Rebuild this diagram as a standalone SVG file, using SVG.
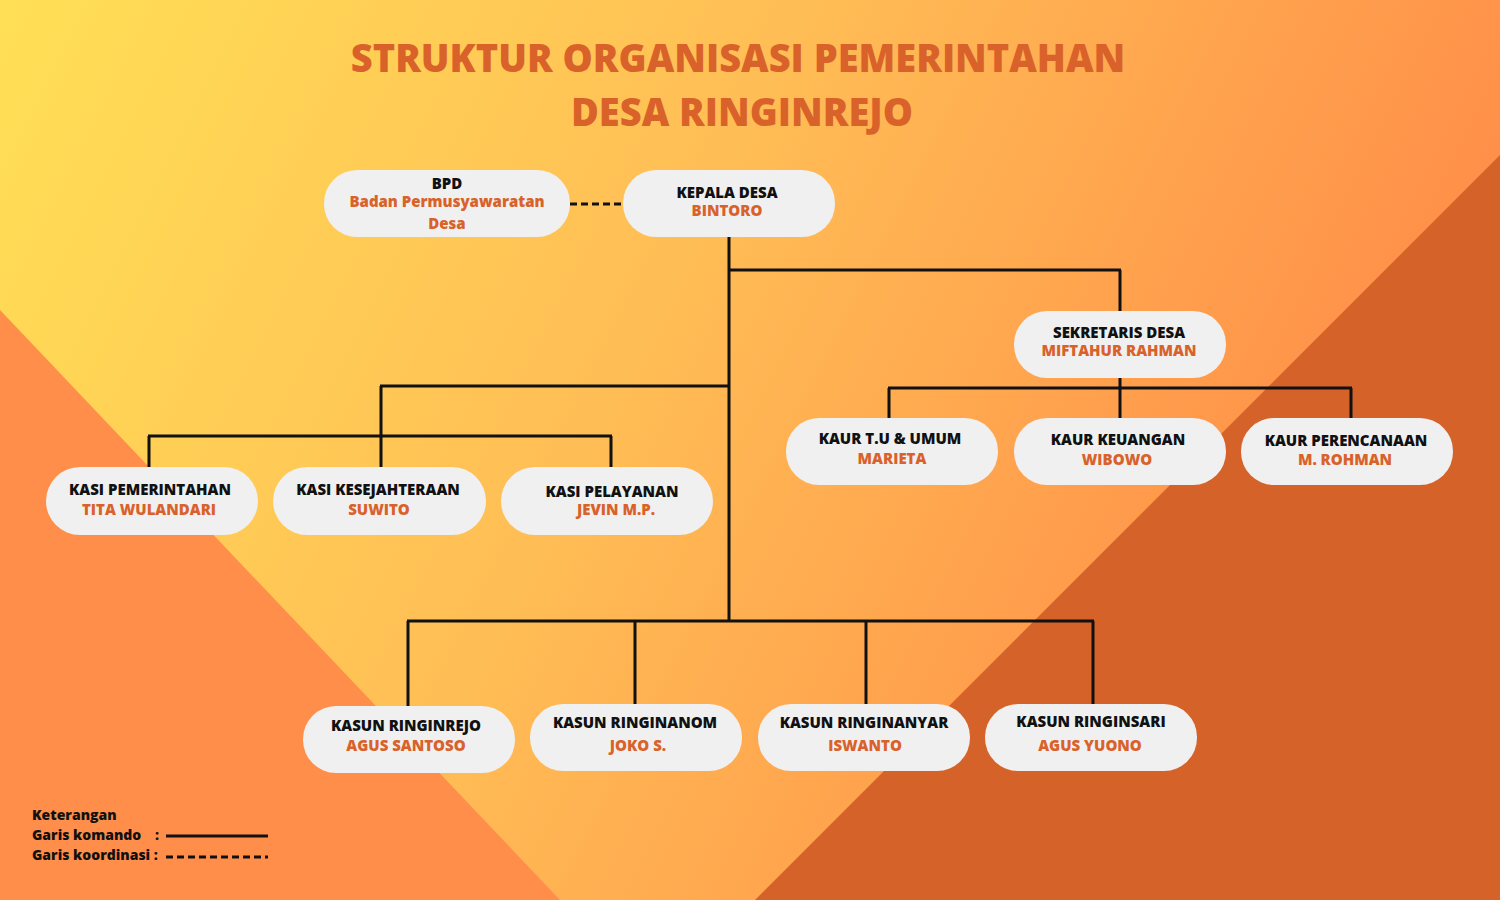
<svg xmlns="http://www.w3.org/2000/svg" width="1500" height="900" viewBox="0 0 1500 900">
<defs>
<linearGradient id="bg" x1="0" y1="0" x2="1" y2="0.3">
<stop offset="0" stop-color="#FFE055"/><stop offset="0.5" stop-color="#FFBD55"/><stop offset="1" stop-color="#FF8C48"/>
</linearGradient>
<style>
.n rect{fill:#F0F0F0}
.t{font-family:"Open Sans","DejaVu Sans",sans-serif;font-weight:800;font-size:15px;text-anchor:middle}
.k{fill:#111}
.o{fill:#D9622B}
.c line{stroke:#111;stroke-width:3}
.title{font-family:"Open Sans","DejaVu Sans",sans-serif;font-weight:800;font-size:38px;fill:#D9622B;text-anchor:middle}
.lg{font-family:"Open Sans","DejaVu Sans",sans-serif;font-weight:800;font-size:14px;fill:#111}
</style>
</defs>
<rect width="1500" height="900" fill="url(#bg)"/>
<polygon points="0,310 560,900 0,900" fill="#FF8E4A"/>
<polygon points="1500,155 755,900 1500,900" fill="#D56228"/>
<text class="title" x="738" y="72">STRUKTUR ORGANISASI PEMERINTAHAN</text>
<text class="title" x="742" y="126">DESA RINGINREJO</text>
<g class="c">
<line x1="570" y1="204" x2="623" y2="204" stroke-dasharray="7,4"/>
<line x1="729" y1="237" x2="729" y2="622"/>
<line x1="729" y1="270" x2="1121" y2="270"/><line x1="1120" y1="270" x2="1120" y2="311"/>
<line x1="1120" y1="378" x2="1120" y2="418"/>
<line x1="888" y1="388" x2="1352" y2="388"/><line x1="889" y1="388" x2="889" y2="418"/><line x1="1351" y1="388" x2="1351" y2="418"/>
<line x1="380" y1="386" x2="729" y2="386"/><line x1="381" y1="386" x2="381" y2="467"/>
<line x1="148" y1="436" x2="612" y2="436"/><line x1="149" y1="436" x2="149" y2="467"/><line x1="611" y1="436" x2="611" y2="467"/>
<line x1="407" y1="621" x2="1094" y2="621"/><line x1="408" y1="621" x2="408" y2="706"/><line x1="635" y1="621" x2="635" y2="704"/><line x1="866" y1="621" x2="866" y2="704"/><line x1="1093" y1="621" x2="1093" y2="704"/>
</g>
<g id="bpd" class="n"><rect x="324" y="170" width="246" height="67" rx="33"/><text class="t k" x="447" y="189">BPD</text><text class="t o" x="447" y="207">Badan Permusyawaratan</text><text class="t o" x="447" y="229">Desa</text></g>
<g id="kepala" class="n"><rect x="623" y="170" width="212" height="67" rx="33"/><text class="t k" x="727" y="198">KEPALA DESA</text><text class="t o" x="727" y="216">BINTORO</text></g>
<g id="sekdes" class="n"><rect x="1014" y="311" width="212" height="67" rx="33"/><text class="t k" x="1119" y="338">SEKRETARIS DESA</text><text class="t o" x="1119" y="356">MIFTAHUR RAHMAN</text></g>
<g id="kaur1" class="n"><rect x="786" y="418" width="212" height="67" rx="33"/><text class="t k" x="890" y="444">KAUR T.U &amp; UMUM</text><text class="t o" x="892" y="464">MARIETA</text></g>
<g id="kaur2" class="n"><rect x="1014" y="418" width="212" height="67" rx="33"/><text class="t k" x="1118" y="445">KAUR KEUANGAN</text><text class="t o" x="1117" y="465">WIBOWO</text></g>
<g id="kaur3" class="n"><rect x="1241" y="418" width="212" height="67" rx="33"/><text class="t k" x="1346" y="446">KAUR PERENCANAAN</text><text class="t o" x="1345" y="465">M. ROHMAN</text></g>
<g id="kasi1" class="n"><rect x="46" y="467" width="212" height="68" rx="34"/><text class="t k" x="150" y="495">KASI PEMERINTAHAN</text><text class="t o" x="149" y="515">TITA WULANDARI</text></g>
<g id="kasi2" class="n"><rect x="273" y="467" width="213" height="68" rx="34"/><text class="t k" x="378" y="495">KASI KESEJAHTERAAN</text><text class="t o" x="379" y="515">SUWITO</text></g>
<g id="kasi3" class="n"><rect x="501" y="467" width="212" height="68" rx="34"/><text class="t k" x="612" y="497">KASI PELAYANAN</text><text class="t o" x="616" y="515">JEVIN M.P.</text></g>
<g id="kasun1" class="n"><rect x="303" y="706" width="212" height="67" rx="33"/><text class="t k" x="406" y="731">KASUN RINGINREJO</text><text class="t o" x="406" y="751">AGUS SANTOSO</text></g>
<g id="kasun2" class="n"><rect x="530" y="704" width="212" height="67" rx="33"/><text class="t k" x="635" y="728">KASUN RINGINANOM</text><text class="t o" x="638" y="751">JOKO S.</text></g>
<g id="kasun3" class="n"><rect x="758" y="704" width="212" height="67" rx="33"/><text class="t k" x="864" y="728">KASUN RINGINANYAR</text><text class="t o" x="865" y="751">ISWANTO</text></g>
<g id="kasun4" class="n"><rect x="985" y="704" width="212" height="67" rx="33"/><text class="t k" x="1091" y="727">KASUN RINGINSARI</text><text class="t o" x="1090" y="751">AGUS YUONO</text></g>
<g id="legend">
<text class="lg" x="32" y="820">Keterangan</text>
<text class="lg" x="32" y="840">Garis komando</text><text class="lg" x="155" y="840">:</text>
<text class="lg" x="32" y="860">Garis koordinasi :</text>
<line x1="166" y1="836" x2="268" y2="836" stroke="#111" stroke-width="3"/>
<line x1="166" y1="857" x2="268" y2="857" stroke="#111" stroke-width="3" stroke-dasharray="7,4"/>
</g>
</svg>
